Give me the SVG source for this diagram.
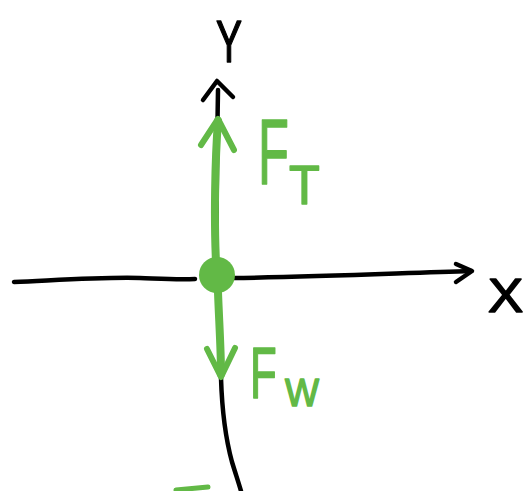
<svg xmlns="http://www.w3.org/2000/svg" width="527" height="491" viewBox="0 0 527 491">
<style>
.ax{fill:none;stroke:#000;stroke-width:4.5;stroke-linecap:round;stroke-linejoin:round}
.gr{fill:none;stroke:#62b946;stroke-linecap:round;stroke-linejoin:round}
.lb{font-family:"Liberation Sans",Arial,sans-serif;stroke-width:1.5;stroke-linejoin:round}
.k{fill:#000;stroke:#000}
.g{fill:#62b946;stroke:#62b946}
</style>
<rect width="527" height="491" fill="#fff"/>
<g id="connectors">
<g id="y-axis">
<path class="ax" d="M218,90 C217,150 216,220 217,282"/>
<path class="ax" d="M219,290 C220,330 221,360 221,378 C222,410 226,440 232,462 C236,475 239,484 241,491"/>
<path class="ax" d="M203,100 L217,81 L233,97"/>
</g>
<g id="x-axis">
<path class="ax" d="M14,282 C60,280 100,277 140,278 C165,279 180,280 195,279"/>
<path class="ax" d="M232,278 C320,277 400,273 471,271"/>
<path class="ax" d="M456,264 L472,271 L456,282"/>
</g>
<g id="force-t">
<path class="gr" stroke-width="8" d="M216,262 C214,220 215,160 218,121"/>
<path class="gr" stroke-width="6" d="M201,145 L218,119 L234,150"/>
</g>
<g id="force-w">
<path class="gr" stroke-width="8" d="M218,292 C219,320 221,350 221,374"/>
<path class="gr" stroke-width="6" d="M207,349 L221,377 L235,348"/>
</g>
<path class="gr" stroke-width="5" d="M176,490 L208,487"/>
</g>
<g id="point">
<circle cx="217" cy="275" r="18" fill="#62b946"/>
</g>
<g id="label-y"><text class="lb k" font-size="60" transform="translate(216,62) scale(0.65,1)">Y</text></g>
<g id="label-x"><text class="lb k" font-size="48" transform="translate(488,312) scale(1.1,1)">X</text></g>
<g id="label-ft">
<text class="lb g" font-size="92" transform="translate(258,184) scale(0.55,1)">F</text>
<text class="lb g" font-size="56" transform="translate(289,204) scale(0.9,1)">T</text>
</g>
<g id="label-fw">
<text class="lb g" font-size="73" transform="translate(250,398) scale(0.6,1)">F</text>
<text class="lb g" font-size="38" transform="translate(285,406) scale(0.95,1)">W</text>
</g>
</svg>
